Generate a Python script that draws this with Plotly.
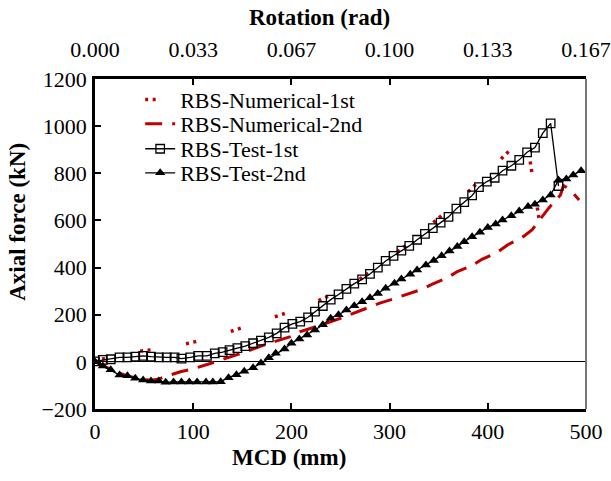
import plotly.graph_objects as go

# ---------------- data ----------------
# RBS-Test-1st (open squares)
test1_mcd = [0, 8, 16, 25, 33, 41, 49, 57, 65, 73, 81, 88, 97, 105, 114, 122, 130, 137,
             145, 153, 161, 169, 177, 185, 193, 201, 209, 217, 224, 232, 240, 248, 256,
             264, 272, 280, 288, 296, 304, 312, 320, 328, 336, 344, 352, 360, 368, 376,
             384, 391, 399, 407, 415, 424, 432, 440, 448, 456, 464, 472]
test1_force = [2, 8, 11, 19, 19, 22, 25, 22, 19, 19, 19, 14, 19, 25, 25, 36, 41, 50,
               58, 67, 79, 90, 104, 121, 145, 161, 171, 189, 213, 237, 264, 286, 310,
               332, 350, 373, 400, 428, 450, 472, 492, 518, 543, 567, 591, 615, 650, 678,
               706, 741, 765, 781, 811, 832, 857, 889, 909, 970, 1012, 746]

# RBS-Test-2nd (filled triangles)
test2_mcd = [0, 8, 16, 25, 33, 41, 49, 57, 65, 72, 80, 88, 96, 104, 113, 120, 128, 136,
             144, 152, 161, 169, 177, 184, 193, 200, 208, 216, 224, 232, 240, 248, 256,
             264, 272, 280, 288, 296, 305, 312, 321, 328, 337, 345, 353, 361, 369, 376,
             384, 392, 400, 408, 415, 424, 432, 441, 448, 456, 464, 472, 480, 487, 495]
test2_force = [0, -18, -33, -56, -59, -70, -77, -81, -81, -87, -85, -85, -85, -85, -85, -85,
               -84, -67, -55, -40, -25, -5, 17, 36, 55, 79, 97, 114, 135, 157, 185, 200,
               220, 238, 255, 272, 290, 312, 334, 352, 372, 390, 411, 430, 450, 470, 489,
               510, 531, 550, 570, 585, 602, 620, 640, 659, 669, 687, 708, 772, 776, 793, 811]

# RBS-Numerical-1st (red dotted)
num1_mcd = [0, 7, 37, 75, 114, 121, 159, 166, 189, 218, 225, 247, 270, 293, 320, 350,
            383, 394, 427, 441, 453]
num1_force = [0, 11, 41, 60, 97, 106, 157, 169, 199, 241, 254, 297, 352, 419, 505, 610,
              733, 779, 917, 908, 585]

# RBS-Numerical-2nd (red dashed)
num2_mcd = [0, 10, 20, 30, 40, 50, 58, 65, 73, 87, 99, 115, 127, 144, 155, 171, 181, 199,
            209, 226, 236, 250, 270, 290, 306, 316, 333, 343, 358, 369, 384, 394, 409,
            420, 436, 445, 457, 462, 474, 477, 484, 493]
num2_force = [0, -20, -40, -55, -67, -75, -78, -73, -60, -42, -31, -10, 6, 29, 45, 70, 84,
              107, 128, 150, 164, 185, 218, 249, 270, 284, 308, 329, 355, 383, 408, 435,
              463, 496, 531, 560, 623, 652, 708, 748, 730, 687]

mcd_ticks = [0, 100, 200, 300, 400, 500]
force_ticks = [-200, 0, 200, 400, 600, 800, 1000, 1200]
rotation_per_mm = 1.0 / 3000.0  # rotation (rad) = MCD / 3000
rot_ticks = [m * rotation_per_mm for m in mcd_ticks]
rot_labels = ["%.3f" % r for r in rot_ticks]

series_names = ["RBS-Numerical-1st", "RBS-Numerical-2nd", "RBS-Test-1st", "RBS-Test-2nd"]

# ---------------- figure ----------------
FONT = "Liberation Serif"
RED = "#C00000"

fig = go.Figure()

fig.add_trace(go.Scatter(
    x=num1_mcd, y=num1_force, name=series_names[0], mode="lines",
    line=dict(color=RED, width=3.5, dash="3px,4.5px,3px,36px"),
    legend="legend"))
fig.add_trace(go.Scatter(
    x=num2_mcd, y=num2_force, name=series_names[1], mode="lines",
    line=dict(color=RED, width=3, dash="17px,10px"),
    legend="legend2"))
fig.add_trace(go.Scatter(
    x=test1_mcd, y=test1_force, name=series_names[2], mode="lines+markers",
    line=dict(color="black", width=1.3),
    marker=dict(symbol="square-open", size=8.5, color="black", line=dict(width=1.3)),
    legend="legend3"))
fig.add_trace(go.Scatter(
    x=test2_mcd, y=test2_force, name=series_names[3], mode="lines+markers",
    line=dict(color="black", width=1.3),
    marker=dict(symbol="triangle-up", size=9, color="black"),
    legend="legend4"))

# invisible trace to carry the top (rotation) axis
fig.add_trace(go.Scatter(x=rot_ticks, y=[None] * len(rot_ticks), xaxis="x2",
                         showlegend=False, hoverinfo="skip", mode="markers"))

legend_rows = [0.937, 0.864, 0.788, 0.715]
legend_common = dict(x=0.092, xanchor="left", yanchor="middle",
                     bgcolor="rgba(0,0,0,0)", borderwidth=0,
                     font=dict(family=FONT, size=22, color="black"),
                     itemwidth=30)

layout_legends = {}
for i, key in enumerate(["legend", "legend2", "legend3", "legend4"]):
    d = dict(legend_common)
    d["y"] = legend_rows[i]
    layout_legends[key] = d

tickfont = dict(family=FONT, size=22, color="black")

fig.update_layout(
    width=611, height=481,
    margin=dict(l=95, r=25, t=79, b=72, autoexpand=False),
    paper_bgcolor="white", plot_bgcolor="white",
    showlegend=True,
    font=dict(family=FONT),
    xaxis=dict(range=[0, 500], tickvals=mcd_ticks, showgrid=False, zeroline=False,
               showline=True, linecolor="black", linewidth=2.5, automargin=False,
               ticks="inside", ticklen=6, tickwidth=1.5, tickcolor="black",
               tickfont=tickfont, ticklabelstandoff=1),
    xaxis2=dict(range=[0, 500 * rotation_per_mm], overlaying="x", side="top",
                tickvals=rot_ticks, ticktext=rot_labels, showgrid=False, zeroline=False,
                showline=True, linecolor="black", linewidth=2.5, automargin=False,
                ticks="inside", ticklen=6, tickwidth=1.5, tickcolor="black",
                tickfont=tickfont, ticklabelstandoff=10),
    yaxis=dict(range=[-200, 1200], tickvals=force_ticks, showgrid=False,
               zeroline=True, zerolinecolor="black", zerolinewidth=1, automargin=False,
               showline=True, linecolor="black", linewidth=2.5,
               ticks="inside", ticklen=6, tickwidth=1.5, tickcolor="black",
               tickfont=tickfont, ticklabelstandoff=1),
    shapes=[dict(type="line", xref="paper", yref="paper", x0=1, x1=1, y0=0, y1=1,
                 line=dict(color="#777777", width=2))],
    annotations=[
        dict(text="<b>Rotation (rad)</b>", xref="paper", yref="paper", x=0.458, y=1.185,
             xanchor="center", yanchor="middle", showarrow=False,
             font=dict(family=FONT, size=23, color="black")),
        dict(text="<b>MCD (mm)</b>", xref="paper", yref="paper", x=0.395, y=-0.146,
             xanchor="center", yanchor="middle", showarrow=False,
             font=dict(family=FONT, size=23, color="black")),
        dict(text="<b>Axial force (kN)</b>", xref="paper", yref="paper", x=-0.157, y=0.567,
             xanchor="center", yanchor="middle", showarrow=False, textangle=-90,
             font=dict(family=FONT, size=23, color="black")),
    ],
    **layout_legends,
)

fig.write_html("out.html")
